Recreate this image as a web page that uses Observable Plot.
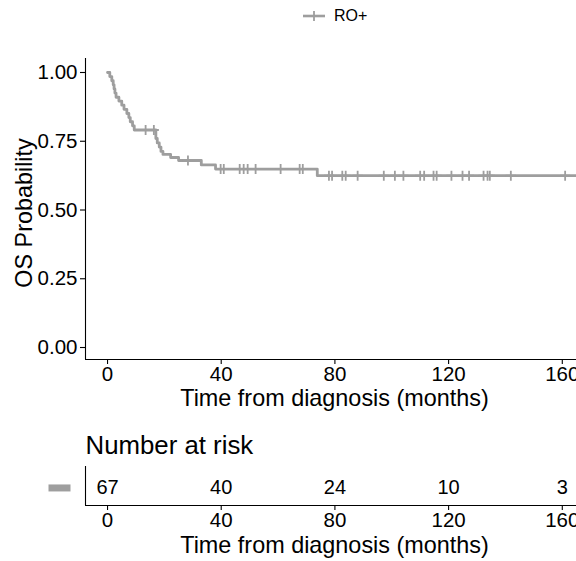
<!DOCTYPE html>
<html><head><meta charset="utf-8">
<script src="https://cdn.jsdelivr.net/npm/d3@7"></script>
<script src="https://cdn.jsdelivr.net/npm/@observablehq/plot@0.6"></script>
<style>
body{margin:0;background:#fff;font-family:"Liberation Sans",Arial,sans-serif;}
#wrap{position:relative;width:576px;height:561px;overflow:hidden;background:#fff;}
#main{position:absolute;left:0;top:0;}
#risk{position:absolute;left:0;top:420px;}
#legend{position:absolute;top:6px;left:302px;display:flex;align-items:center;font-size:16px;color:#000;}
#legend svg{display:block;}
</style></head><body>
<div id="wrap"><div id="main"></div><div id="risk"></div>
<div id="legend"><svg width="24" height="20"><line x1="1" x2="23" y1="10" y2="10" stroke="#9e9e9e" stroke-width="2.6"/><line x1="12" x2="12" y1="5" y2="15" stroke="#9e9e9e" stroke-width="1.8"/></svg><span id="legtext" style="margin-left:8px"></span></div>
</div>
<script>
// ---- data ----
const groupName = "RO+";
const xLabel = "Time from diagnosis (months)";
const yLabel = "OS Probability";
const tableTitle = "Number at risk";
const xTicks = [0, 40, 80, 120, 160];
const yTicks = [0, 0.25, 0.5, 0.75, 1];
// Kaplan-Meier steps (time of step, survival after the step)
const eventTimes = [0, 0.8, 1.5, 2.0, 2.3, 2.6, 3.0, 4.0, 5.0, 5.8, 6.8, 7.5, 8.0, 8.8, 9.4,
  17.0, 17.5, 18.2, 18.8, 19.5, 22.2, 25.0, 33.0, 38.0, 73.8, 165];
const survival = [1.0, 0.985, 0.970, 0.955, 0.940, 0.925, 0.910, 0.896, 0.881, 0.866, 0.851, 0.836, 0.821, 0.806, 0.791,
  0.760, 0.744, 0.729, 0.713, 0.702, 0.691, 0.680, 0.664, 0.649, 0.625, 0.625];
// censoring marks (times)
const censorTimes = [13.4, 16.3, 28.3, 39.8, 40.9, 46.5, 47.9, 49.3, 52.1, 60.9, 67.6, 68.7,
  77.9, 79.0, 82.6, 83.8, 88.0, 97.2, 101.1, 104.1, 110.0, 111.4, 114.7, 115.8,
  121.0, 124.9, 127.2, 132.3, 133.7, 134.5, 141.9, 161.0];
const riskTimes = [0, 40, 80, 120, 160];
const riskCounts = [67, 40, 24, 10, 3];

// ---- layout ----
const gray = "#9e9e9e";
const font = '"Liberation Sans", Arial, sans-serif';
const xDomain = [-7.75, 165];
const yDomain = [-0.0436, 1.0509];

document.getElementById("legtext").textContent = groupName;

const curve = eventTimes.map((t, i) => ({t, s: survival[i]}));
const survAt = t => { let s = survival[0]; for (let i = 0; i < eventTimes.length; i++) if (eventTimes[i] <= t) s = survival[i]; return s; };
const censors = censorTimes.map(t => ({t, s: survAt(t)}));
const riskTable = riskTimes.map((t, i) => ({t, n: riskCounts[i]}));

const plusSymbol = {draw(ctx, size) { const r = Math.sqrt(size / Math.PI); ctx.moveTo(0, -r); ctx.lineTo(0, r); ctx.moveTo(-r, 0); ctx.lineTo(r, 0); }};
const barSymbol = {draw(ctx) { ctx.rect(-11, -3.5, 22, 7); }};

const tickFont = 20.5;
const titleFont = 23.4;

const main = Plot.plot({
  width: 576, height: 420,
  marginLeft: 85, marginRight: 0, marginTop: 58, marginBottom: 61,
  style: {fontFamily: font, fontSize: tickFont + "px", color: "#000", background: "white", overflow: "visible"},
  x: {domain: xDomain},
  y: {domain: yDomain},
  marks: [
    Plot.axisY(yTicks, {tickFormat: d3.format(".2f"), tickSize: 5, tickPadding: 3, fontSize: tickFont, label: null, strokeWidth: 1.1}),
    Plot.axisX(xTicks, {tickSize: 5, tickPadding: 2, fontSize: tickFont, label: null, strokeWidth: 1.1}),
    Plot.ruleX([xDomain[0]], {stroke: "#000", strokeWidth: 1.1}),
    Plot.ruleY([yDomain[0]], {stroke: "#000", strokeWidth: 1.1}),
    Plot.line(curve, {x: "t", y: "s", curve: "step-after", stroke: gray, strokeWidth: 2.8}),
    Plot.dot(censors, {x: "t", y: "s", symbol: plusSymbol, r: 5, stroke: gray, strokeWidth: 1.8, fill: "none"}),
    Plot.text([xLabel], {text: d => d, frameAnchor: "bottom", textAnchor: "middle", dx: 3.5, dy: 46, fontSize: titleFont}),
    Plot.text([yLabel], {text: d => d, frameAnchor: "left", textAnchor: "middle", rotate: -90, dx: -61, dy: 4, fontSize: titleFont})
  ]
});
document.getElementById("main").appendChild(main);

const risk = Plot.plot({
  width: 576, height: 141,
  marginLeft: 85, marginRight: 0, marginTop: 46, marginBottom: 56,
  style: {fontFamily: font, fontSize: tickFont + "px", color: "#000", background: "white", overflow: "visible"},
  x: {domain: xDomain},
  y: {domain: [0, 1], axis: null},
  marks: [
    Plot.axisX(xTicks, {tickSize: 5, tickPadding: 2, fontSize: tickFont, label: null, strokeWidth: 1.1}),
    Plot.ruleX([xDomain[0]], {stroke: "#000", strokeWidth: 1.1}),
    Plot.ruleY([0], {stroke: "#000", strokeWidth: 1.1}),
    Plot.text(riskTable, {x: "t", y: () => 0.45, text: d => String(d.n), fontSize: 20}),
    Plot.dot([0.45], {y: d => d, frameAnchor: "left", dx: -26, symbol: barSymbol, r: 3, fill: gray, stroke: "none"}),
    Plot.text([tableTitle], {text: d => d, frameAnchor: "top-left", textAnchor: "start", dy: -31, fontSize: 25.8}),
    Plot.text([xLabel], {text: d => d, frameAnchor: "bottom", textAnchor: "middle", dx: 3.5, dy: 47, fontSize: titleFont})
  ]
});
document.getElementById("risk").appendChild(risk);
</script>
</body></html>
